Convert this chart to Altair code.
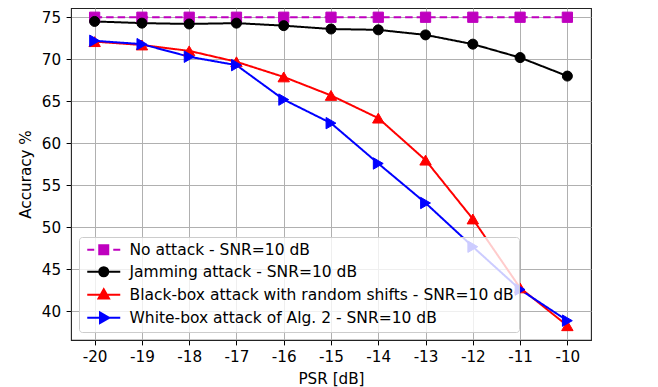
import altair as alt
import pandas as pd

psr = [-20, -19, -18, -17, -16, -15, -14, -13, -12, -11, -10]
no_attack = [75.0, 75.0, 75.0, 75.0, 75.0, 75.0, 75.0, 75.0, 75.0, 75.0, 75.0]
jamming = [74.5, 74.3, 74.2, 74.3, 74.0, 73.6, 73.5, 72.9, 71.8, 70.2, 68.0]
blackbox = [72.1, 71.7, 71.0, 69.7, 67.9, 65.7, 63.0, 58.0, 51.0, 42.8, 38.3]
whitebox = [72.2, 71.8, 70.3, 69.3, 65.2, 62.4, 57.6, 52.9, 47.7, 42.6, 38.9]

series_names = [
    "No attack - SNR=10 dB",
    "Jamming attack - SNR=10 dB",
    "Black-box attack with random shifts - SNR=10 dB",
    "White-box attack of Alg. 2 - SNR=10 dB",
]
series_values = [no_attack, jamming, blackbox, whitebox]
colors = ["#bf00bf", "#000000", "#ff0000", "#0000ff"]
shapes = ["square", "circle", "triangle-up", "triangle-right"]
sizes = [105, 100, 130, 130]
dashes = [[7.5, 4], [1, 0], [1, 0], [1, 0]]
x_ticks = psr
y_ticks = [40, 45, 50, 55, 60, 65, 70, 75]

# legend glyphs: line + marker, in units of sqrt(size)/2 px
legend_paths = [
    "M-3.3,0H-1.9M1.9,0H3.3M-0.9,-0.9H0.9V0.9H-0.9Z",
    "M-3.3,0H3.3M-0.9,0A0.9,0.9 0 1,0 0.9,0A0.9,0.9 0 1,0 -0.9,0Z",
    "M-3.3,0H3.3M0,-1.1L1.05,0.75H-1.05Z",
    "M-3.3,0H3.3M1.1,0L-0.75,-1.05V1.05Z",
]

rows = []
for name, vals in zip(series_names, series_values):
    for x, y in zip(psr, vals):
        rows.append({"series": name, "psr": x, "acc": y})
df = pd.DataFrame(rows)

FONT = "DejaVu Sans"
FS = 15.2

x_enc = alt.X(
    "psr:Q",
    scale=alt.Scale(domain=[-20.5, -9.5], nice=False, zero=False),
    axis=alt.Axis(title="PSR [dB]", values=x_ticks, labelExpr="'' + datum.value",
                  labelPadding=5, titlePadding=6),
)
y_enc = alt.Y(
    "acc:Q",
    scale=alt.Scale(domain=[36.6, 76.1], nice=False, zero=False),
    axis=alt.Axis(title="Accuracy %", values=y_ticks, labelPadding=5.5, titlePadding=8),
)

base = alt.Chart(df)

layers = []
for name, col, dash in zip(series_names, colors, dashes):
    sub = base.transform_filter(alt.datum.series == name)
    layers.append(
        sub.mark_line(strokeWidth=2, color=col, strokeDash=dash).encode(
            x=x_enc, y=y_enc, order="psr:Q"
        )
    )
for name, col, shp, sz in zip(series_names, colors, shapes, sizes):
    sub = base.transform_filter(alt.datum.series == name)
    layers.append(
        sub.mark_point(filled=True, opacity=1, shape=shp, size=sz, color=col,
                       stroke=col, strokeWidth=1).encode(x=x_enc, y=y_enc)
    )

legend = alt.Legend(
    orient="none",
    legendX=8,
    legendY=229,
    fillColor="rgba(255,255,255,0.8)",
    strokeColor="#cccccc",
    cornerRadius=3,
    padding=5,
    rowPadding=4,
    symbolSize=100,
    symbolOffset=12,
    labelOffset=18,
    symbolStrokeWidth=2,
    symbolOpacity=1,
    labelFont=FONT,
    labelFontSize=15.5,
    labelColor="black",
    labelLimit=0,
    zindex=1,
)

legend_layer = base.mark_point(filled=True, opacity=0).encode(
    x=x_enc,
    y=y_enc,
    fill=alt.Fill("series:N", scale=alt.Scale(domain=series_names, range=colors),
                  title=None, legend=legend),
    stroke=alt.Stroke("series:N", scale=alt.Scale(domain=series_names, range=colors),
                      title=None, legend=legend),
    shape=alt.Shape("series:N", scale=alt.Scale(domain=series_names, range=legend_paths),
                    title=None, legend=legend),
)

chart = (
    alt.layer(*layers, legend_layer)
    .properties(
        width=520,
        height=332,
        autosize=alt.AutoSizeParams(type="none"),
        padding={"left": 63, "top": 0, "right": 40, "bottom": 47},
    )
    .configure_view(stroke="#222222", strokeWidth=1.1)
    .configure_axis(
        grid=True,
        gridColor="#b0b0b0",
        gridWidth=1,
        domain=False,
        tickColor="black",
        tickSize=4.9,
        tickWidth=1,
        labelFont=FONT,
        labelFontSize=FS,
        labelColor="black",
        titleFont=FONT,
        titleFontSize=FS,
        titleFontWeight="normal",
        titleColor="black",
    )
)

chart.save("out.html", embed_options={"renderer": "svg", "actions": False})
